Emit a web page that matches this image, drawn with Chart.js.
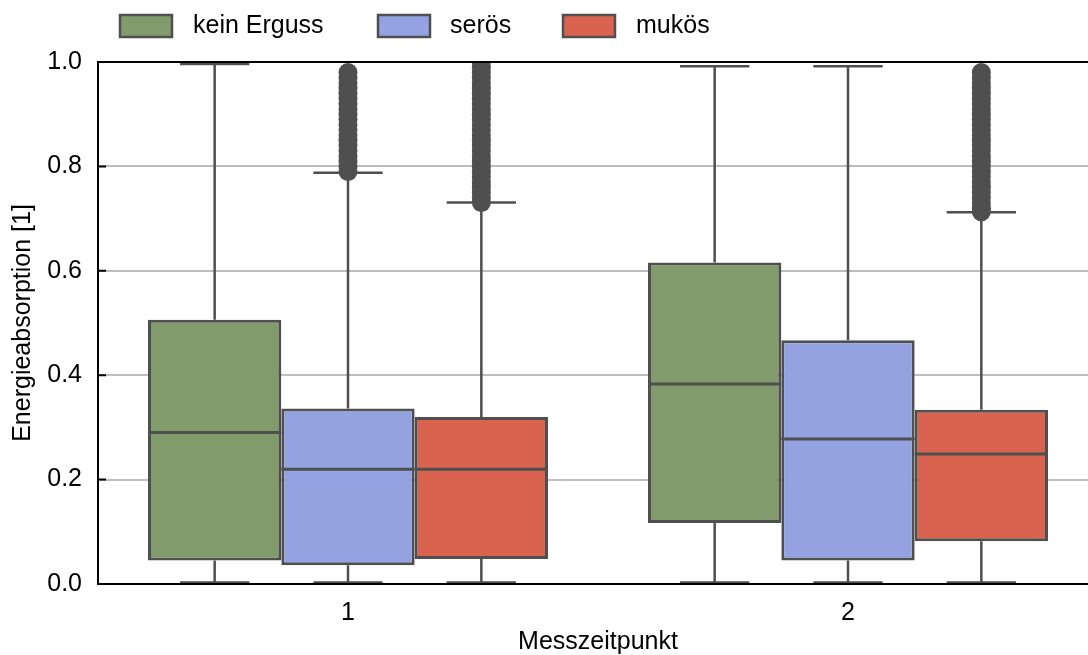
<!DOCTYPE html>
<html>
<head>
<meta charset="utf-8">
<script src="https://cdn.jsdelivr.net/npm/chart.js@4"></script>
<style>
  html, body { margin: 0; padding: 0; overflow: hidden; background: #fff; }
  #wrap { width: 1110px; height: 655px; }
</style>
</head>
<body>
<div id="wrap"><canvas id="chart"></canvas></div>
<script>
const timepoints = ["1", "2"];
const groups = ["kein Erguss", "serös", "mukös"];
const colors = ["#819b6c", "#95a2e2", "#d9634f"];
const edge = "#4f4f4f";

// one row per group, one value per timepoint
const q1 = [[0.045, 0.117], [0.036, 0.045], [0.048, 0.082]];
const q3 = [[0.506, 0.616], [0.336, 0.467], [0.320, 0.334]];
const medians = [[0.290, 0.383], [0.220, 0.278], [0.220, 0.249]];
const whiskerLow = [[0.003, 0.003], [0.003, 0.003], [0.003, 0.003]];
const whiskerHigh = [[0.996, 0.992], [0.788, 0.992], [0.731, 0.712]];
const outliers = [
  [[], []],
  [[0.79, 0.80, 0.81, 0.82, 0.83, 0.84, 0.85, 0.86, 0.87, 0.88, 0.89, 0.90,
    0.91, 0.92, 0.93, 0.94, 0.95, 0.96, 0.97, 0.98], []],
  [[0.731, 0.74, 0.75, 0.76, 0.77, 0.78, 0.79, 0.80, 0.81, 0.82, 0.83, 0.84,
    0.85, 0.86, 0.87, 0.88, 0.89, 0.90, 0.91, 0.92, 0.93, 0.94, 0.95, 0.96,
    0.97, 0.98, 0.99, 1.0],
   [0.713, 0.72, 0.73, 0.74, 0.75, 0.76, 0.77, 0.78, 0.79, 0.80, 0.81, 0.82,
    0.83, 0.84, 0.85, 0.86, 0.87, 0.88, 0.89, 0.90, 0.91, 0.92, 0.93, 0.94,
    0.95, 0.96, 0.97, 0.98]]
];

const font = { family: "'Liberation Sans', Arial, sans-serif", size: 25 };

const boxParts = {
  id: "boxParts",
  beforeDatasetsDraw(chart) {
    // whiskers and caps
    const ctx = chart.ctx, y = chart.scales.y;
    ctx.save();
    ctx.strokeStyle = edge;
    ctx.lineWidth = 2.5;
    groups.forEach((g, d) => {
      chart.getDatasetMeta(d).data.forEach((bar, i) => {
        const x = bar.x, half = bar.width * 0.26;
        const lo = y.getPixelForValue(whiskerLow[d][i]);
        const hi = y.getPixelForValue(whiskerHigh[d][i]);
        ctx.beginPath();
        ctx.moveTo(x, y.getPixelForValue(q3[d][i])); ctx.lineTo(x, hi);
        ctx.moveTo(x - half, hi); ctx.lineTo(x + half, hi);
        ctx.moveTo(x, y.getPixelForValue(q1[d][i])); ctx.lineTo(x, lo);
        ctx.moveTo(x - half, lo); ctx.lineTo(x + half, lo);
        ctx.stroke();
      });
    });
    ctx.restore();
  },
  afterDatasetsDraw(chart) {
    const ctx = chart.ctx, y = chart.scales.y, a = chart.chartArea;
    ctx.save();
    // medians
    ctx.strokeStyle = edge;
    ctx.lineWidth = 3;
    groups.forEach((g, d) => {
      chart.getDatasetMeta(d).data.forEach((bar, i) => {
        const m = y.getPixelForValue(medians[d][i]);
        ctx.beginPath();
        ctx.moveTo(bar.x - bar.width / 2, m);
        ctx.lineTo(bar.x + bar.width / 2, m);
        ctx.stroke();
      });
    });
    // outliers, clipped to the axes
    ctx.save();
    ctx.beginPath();
    ctx.rect(a.left, a.top, a.right - a.left, a.bottom - a.top);
    ctx.clip();
    ctx.fillStyle = edge;
    groups.forEach((g, d) => {
      chart.getDatasetMeta(d).data.forEach((bar, i) => {
        outliers[d][i].forEach(v => {
          ctx.beginPath();
          ctx.arc(bar.x, y.getPixelForValue(v), 9.5, 0, Math.PI * 2);
          ctx.fill();
        });
      });
    });
    ctx.restore();
    // frame and inward y ticks
    ctx.strokeStyle = "#000";
    ctx.lineWidth = 2;
    ctx.beginPath();
    ctx.moveTo(a.right, a.top); ctx.lineTo(a.left, a.top);
    ctx.lineTo(a.left, a.bottom); ctx.lineTo(a.right, a.bottom);
    y.ticks.forEach(t => {
      const py = y.getPixelForValue(t.value);
      ctx.moveTo(a.left, py); ctx.lineTo(a.left + 8, py);
    });
    ctx.stroke();
    ctx.restore();
  },
  afterDraw(chart) {
    // legend
    const ctx = chart.ctx;
    const patchX = [120, 378, 563];
    const textX = [193, 450, 636];
    ctx.save();
    ctx.font = "25px " + font.family;
    ctx.textBaseline = "middle";
    groups.forEach((g, d) => {
      ctx.fillStyle = colors[d];
      ctx.fillRect(patchX[d], 15, 52, 22);
      ctx.strokeStyle = edge;
      ctx.lineWidth = 2.5;
      ctx.strokeRect(patchX[d], 15, 52, 22);
      ctx.fillStyle = "#000";
      ctx.fillText(g, textX[d], 26);
    });
    ctx.restore();
  }
};

const data = {
  labels: timepoints,
  datasets: groups.map((g, d) => ({
    label: g,
    data: timepoints.map((t, i) => [q1[d][i], q3[d][i]]),
    backgroundColor: colors[d],
    borderColor: edge,
    borderWidth: 3,
    borderSkipped: false,
    categoryPercentage: 0.8,
    barPercentage: 1.0,
  })),
};

const config = {
  type: "bar",
  data: data,
  options: {
    responsive: true,
    maintainAspectRatio: false,
    animation: false,
    layout: { padding: { top: 62, right: 12, left: 0, bottom: 0 } },
    plugins: {
      legend: { display: false },
      tooltip: { enabled: false },
    },
    scales: {
      x: {
        grid: { display: false },
        border: { display: false },
        ticks: { font: font, color: "#000", padding: 6 },
        title: {
          display: true,
          text: "Messzeitpunkt",
          font: font,
          color: "#000",
          padding: { top: 0, bottom: -2 },
        },
        afterFit(s) { s.height = 71; },
      },
      y: {
        min: 0,
        max: 1,
        ticks: {
          stepSize: 0.2,
          callback: v => v.toFixed(1),
          padding: 16,
          font: font,
          color: "#000",
        },
        grid: { color: "#bdbdbd", lineWidth: 2, drawTicks: false },
        border: { display: false },
        title: {
          display: true,
          text: "Energieabsorption [1]",
          font: font,
          color: "#000",
          padding: { top: 8, bottom: 0 },
        },
        afterFit(s) { s.width = 98; },
      },
    },
  },
  plugins: [boxParts],
};

const myChart = new Chart(document.getElementById("chart"), config);
</script>
</body>
</html>
